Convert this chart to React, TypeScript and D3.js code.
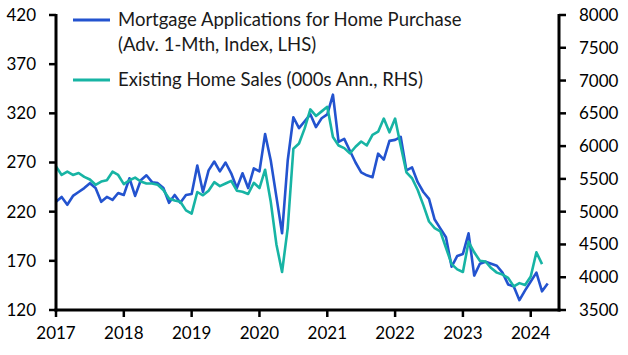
import React from "react";
import * as d3 from "d3";

const startYear = 2017;
const mortgageApps: number[] = [
  230, 235, 227, 236, 240, 244, 249, 244, 230, 235, 232, 239,
  237, 254, 236, 252, 257, 250, 249, 244, 229, 237, 229, 237,
  238, 267, 240, 262, 271, 261, 270, 259, 244, 259, 244, 264,
  261, 299, 272, 235, 198, 272, 316, 305, 312, 319, 306, 315,
  319, 339, 291, 294, 282, 270, 260, 257, 255, 279, 273, 292,
  293, 296, 262, 265, 250, 240, 233, 212, 203, 194, 164, 175,
  177, 198, 155, 167, 169, 167, 165, 158, 146, 144, 130, 140,
  149, 158, 139, 147,
];
const homeSales: number[] = [
  5690, 5560, 5610, 5560, 5590, 5530, 5490, 5410, 5460, 5480, 5610, 5560,
  5420, 5480, 5520, 5460, 5430, 5430, 5410, 5330, 5200, 5170, 5150, 5020,
  4970, 5300, 5250, 5320, 5450, 5390, 5430, 5470, 5320, 5305, 5270, 5440,
  5360, 5640, 5150, 4500, 4080, 4750, 5960, 6040, 6270, 6560, 6460, 6530,
  6600, 6140, 6010, 5970, 5890, 5990, 6070, 6010, 6170, 6220, 6420, 6210,
  6420, 6000, 5600, 5510, 5330, 5100, 4850, 4750, 4700, 4450, 4200, 4120,
  4080, 4540, 4380, 4250, 4240, 4140, 4070, 4040, 3990, 3860, 3910, 3880,
  4010, 4380, 4200,
];
const xTicks = [2017, 2018, 2019, 2020, 2021, 2022, 2023, 2024];
const leftTicks = [120, 170, 220, 270, 320, 370, 420];
const rightTicks = [3500, 4000, 4500, 5000, 5500, 6000, 6500, 7000, 7500, 8000];
const legendLabels = [
  ["Mortgage Applications for Home Purchase", "(Adv. 1-Mth, Index, LHS)"],
  ["Existing Home Sales (000s Ann., RHS)"],
];

const BLUE = "#2353cf";
const TEAL = "#17b4a4";
const FONT = "Lato, 'Open Sans', sans-serif";

export default function App() {
  const W = 628, H = 355;
  const left = 56, right = 559, top = 15, bottom = 310;
  const x = d3.scaleLinear().domain([2017, 2024 + 5 / 12]).range([left, right]);
  const yL = d3.scaleLinear().domain([120, 420]).range([bottom, top]);
  const yR = d3.scaleLinear().domain([3500, 8000]).range([bottom, top]);
  const t = (i: number) => startYear + i / 12;
  const lineL = d3.line<number>().x((_, i) => x(t(i))).y((d) => yL(d));
  const lineR = d3.line<number>().x((_, i) => x(t(i))).y((d) => yR(d));
  const fs = 17;
  const lfs = 18.5;
  return (
    <svg width={W} height={H} style={{ position: "absolute", left: 0, top: 0 }} fontFamily={FONT}>
      <rect width={W} height={H} fill="#fff" />
      <path d={lineL(mortgageApps) || ""} fill="none" stroke={BLUE} strokeWidth={2.6} strokeLinejoin="round" />
      <path d={lineR(homeSales) || ""} fill="none" stroke={TEAL} strokeWidth={2.6} strokeLinejoin="round" />
      {/* axes */}
      <line x1={left} x2={left} y1={top - 1} y2={bottom + 1.5} stroke="#000" strokeWidth={3} />
      <line x1={right} x2={right} y1={top - 1} y2={bottom + 1.5} stroke="#000" strokeWidth={3} />
      <line x1={left - 1.5} x2={right + 1.5} y1={bottom} y2={bottom} stroke="#000" strokeWidth={3} />
      {leftTicks.map((v) => (
        <g key={"l" + v}>
          <line x1={left - 7} x2={left} y1={yL(v)} y2={yL(v)} stroke="#000" strokeWidth={2.5} />
          <text x={36} y={yL(v)} dy="0.35em" textAnchor="end" fontSize={fs} fill="#000">{v}</text>
        </g>
      ))}
      {rightTicks.map((v) => (
        <g key={"r" + v}>
          <line x1={right} x2={right + 7} y1={yR(v)} y2={yR(v)} stroke="#000" strokeWidth={2.5} />
          <text x={579} y={yR(v)} dy="0.35em" textAnchor="start" fontSize={fs} fill="#000">{v}</text>
        </g>
      ))}
      {xTicks.map((v) => (
        <g key={"x" + v}>
          <line x1={x(v)} x2={x(v)} y1={bottom} y2={bottom + 7} stroke="#000" strokeWidth={2.5} />
          <text x={x(v)} y={333} dy="0.35em" textAnchor="middle" fontSize={fs} fill="#000">{v}</text>
        </g>
      ))}
      {/* legend */}
      <line x1={73} x2={110} y1={20} y2={20} stroke={BLUE} strokeWidth={3} />
      <text x={118} y={20} dy="0.35em" fontSize={lfs} fill="#1a1a1a">{legendLabels[0][0]}</text>
      <text x={118} y={45} dy="0.35em" fontSize={lfs} fill="#1a1a1a">{legendLabels[0][1]}</text>
      <line x1={73} x2={110} y1={80} y2={80} stroke={TEAL} strokeWidth={3} />
      <text x={118} y={80} dy="0.35em" fontSize={lfs} fill="#1a1a1a">{legendLabels[1][0]}</text>
    </svg>
  );
}
